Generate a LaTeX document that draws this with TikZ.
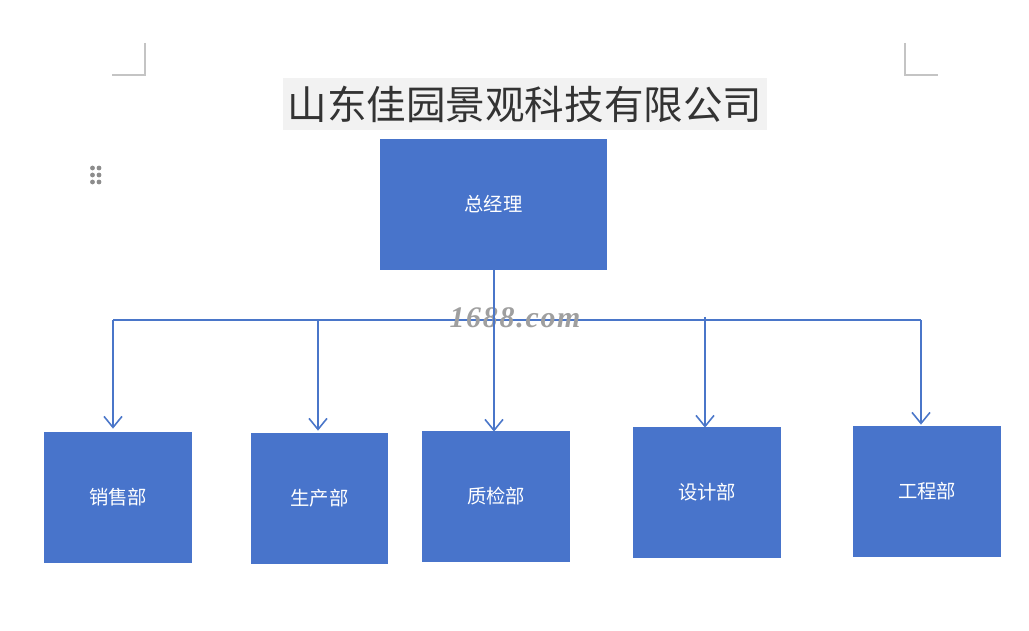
\documentclass[tikz,border=0pt]{standalone}
\usepackage{fontspec}
\setmainfont{Liberation Serif}
\newfontfamily\cjk{Noto Sans CJK SC}
\usepackage{tikz}
\usetikzlibrary{arrows.meta,positioning,calc}
\definecolor{BoxBlue}{HTML}{4874CB}
\definecolor{LinkBlue}{HTML}{4A76C9}
\definecolor{TitleGray}{HTML}{F2F2F2}
\definecolor{MarkGray}{HTML}{C4C4C4}

\begin{document}
\begin{tikzpicture}[
    x=0.02cm, y=-0.02cm,
    font=\cjk,
    dept/.style={rectangle, fill=BoxBlue, text=white, minimum width=2.96cm, minimum height=2.62cm, font=\cjk\fontsize{11}{13}\selectfont},
    arrow/.style={-{Straight Barb[length=2.2mm,width=3.6mm]}, line width=0.9pt, draw=LinkBlue},
    link/.style={line width=0.9pt, draw=LinkBlue}
]
\useasboundingbox (0,0) rectangle (1029,631);

% page corner marks and drag handle
\draw[MarkGray, line width=0.6pt] (145,43) -- (145,75) -- (112,75);
\draw[MarkGray, line width=0.6pt] (905,43) -- (905,75) -- (938,75);
\foreach \y in {168,175,182}
  \foreach \x in {92.5,99}
    \fill[gray!90] (\x,\y) circle (2.4);

% title
\node[fill=TitleGray, text=black!80, minimum width=9.68cm, minimum height=1.04cm, inner sep=0pt,
      font=\cjk\fontsize{22.5}{26}\selectfont] (title) at (525,104) {山东佳园景观科技有限公司};

% boxes
\node[dept, minimum width=4.54cm] (gm) at (493.5,204.5) {总经理};
\node[dept] (xs) at (118,497.5) {销售部};
\node[dept, minimum width=2.74cm] (sc) at (319.5,498.5) {生产部};
\node[dept] (zj) at (496,496.5) {质检部};
\node[dept] (sj) at (707,492.5) {设计部};
\node[dept] (gc) at (927,491.5) {工程部};

% bus line
\coordinate (b1) at (113,320);
\coordinate (b2) at (318,320);
\coordinate (b3) at (494,320);
\coordinate (b4) at (705,317);
\coordinate (b5) at (921,320);
\draw[link] (b1) -- (b5);

% watermark
\node[text=gray!75, font=\bfseries\itshape\fontsize{17}{19}\selectfont] (wm) at (515,318)
  {1\kern1pt6\kern1pt8\kern1pt8\kern1pt.\kern1pt c\kern1pt o\kern1pt m};

\draw[arrow] (gm.south -| b3) -- ($(zj.north -| b3)+(0,1)$);
\draw[arrow] (b1) -- ($(xs.north -| b1)+(0,-3)$);
\draw[arrow] (b2) -- ($(sc.north -| b2)+(0,-2)$);
\draw[arrow] (b4) -- ($(sj.north -| b4)+(0,1)$);
\draw[arrow] (b5) -- ($(gc.north -| b5)+(0,-1)$);
\end{tikzpicture}
\end{document}
